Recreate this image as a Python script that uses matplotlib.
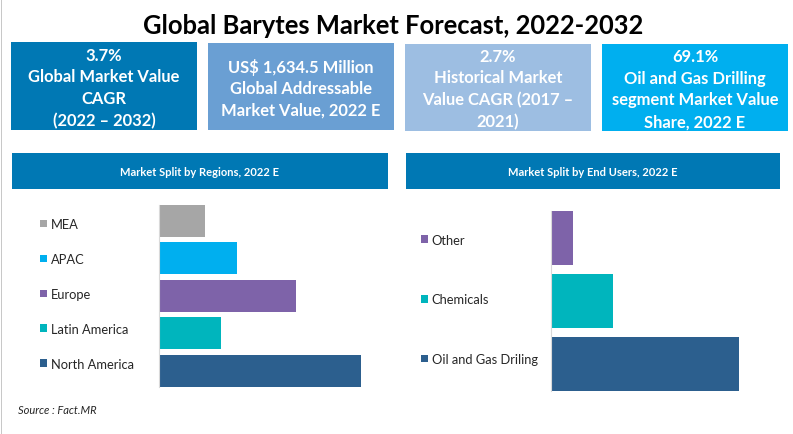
import matplotlib
matplotlib.use('Agg')
import matplotlib.pyplot as plt
from matplotlib.patches import Patch, Rectangle

W, H = 793, 435

# chart data
regions = ['North America', 'Latin America', 'Europe', 'APAC', 'MEA']
region_share = [38.7, 11.9, 26.2, 15.0, 8.9]
region_colors = ['#2C5F8E', '#00B5BD', '#7E63A9', '#00AFEF', '#A6A6A6']

users = ['Oil and Gas Driling', 'Chemicals', 'Other']
user_share = [69.1, 22.8, 8.1]
user_colors = ['#2C5F8E', '#00B5BD', '#7E63A9']

title = 'Global Barytes Market Forecast, 2022-2032'
card_texts = [
    ['3.7%', 'Global Market Value', 'CAGR', '(2022 – 2032)'],
    ['US$ 1,634.5 Million', 'Global Addressable', 'Market Value, 2022 E'],
    ['2.7%', 'Historical Market', 'Value CAGR (2017 –', '2021)'],
    ['69.1%', 'Oil and Gas Drilling', 'segment Market Value', 'Share, 2022 E'],
]
card_boxes = [(11, 43, 197, 131), (208, 44, 394, 131), (405, 45, 591, 132), (602, 45, 788, 132)]
card_colors = ['#0078B4', '#6A9FD3', '#9DBEE2', '#00AFEF']
header_texts = ['Market Split by Regions, 2022 E', 'Market Split by End Users, 2022 E']
header_boxes = [(12, 154, 388, 190), (406, 154, 780, 190)]

plt.rcParams['font.family'] = ['Lato', 'DejaVu Sans']

fig = plt.figure(figsize=(W / 100, H / 100), dpi=100, facecolor='white')


def fx(px):
    return px / W


def fy(py):
    return 1 - py / H


def px_rect(x0, y0, x1, y1, color):
    fig.add_artist(Rectangle((fx(x0), fy(y1)), (x1 - x0) / W, (y1 - y0) / H,
                             transform=fig.transFigure, fc=color, ec='none'))


def px_axes(x0, y0, x1, y1):
    ax = fig.add_axes([fx(x0), fy(y1), (x1 - x0) / W, (y1 - y0) / H])
    ax.patch.set_alpha(0)
    return ax


# thin grey line on the left edge of the screenshot
px_rect(1, 0, 2, H, '#C8C8C8')

fig.text(fx(393.5), fy(26), title, fontsize=18.4, fontweight='bold', color='black', ha='center', va='center')

for lines, box, color in zip(card_texts, card_boxes, card_colors):
    px_rect(*box, color)
    cx = (box[0] + box[2]) / 2
    cy = (box[1] + box[3]) / 2
    fig.text(fx(cx), fy(cy + 1.2), '\n'.join(lines), fontsize=11.9, fontweight='bold', color='white',
             ha='center', va='center', linespacing=1.43)

for label, box in zip(header_texts, header_boxes):
    px_rect(*box, '#0078B4')
    fig.text(fx((box[0] + box[2]) / 2), fy((box[1] + box[3]) / 2), label, fontsize=8.0, fontweight='bold',
             color='white', ha='center', va='center')


def draw_bars(ax, labels, values, colors, xmax, bar_h, leg_anchor, leg_space):
    ax.barh(range(len(values)), values, height=bar_h, color=colors)
    ax.set_xlim(0, xmax)
    ax.set_ylim(-0.5, len(values) - 0.5)
    ax.set_xticks([])
    ax.set_yticks([])
    for name in ['top', 'right', 'bottom']:
        ax.spines[name].set_visible(False)
    ax.spines['left'].set_color('#D9D9D9')
    ax.spines['left'].set_linewidth(0.8)
    ax.spines['left'].set_bounds(-bar_h / 2, len(values) - 1 + bar_h / 2)
    handles = [Patch(facecolor=c, label=l) for l, c in zip(labels, colors)][::-1]
    fig.legend(handles=handles, loc='center left', bbox_to_anchor=leg_anchor, frameon=False, fontsize=9.3,
               handlelength=0.56, handleheight=0.56, handletextpad=0.26, labelspacing=leg_space,
               borderpad=0, borderaxespad=0, labelcolor='#262626')


ax1 = px_axes(159, 203, 361, 390.5)
draw_bars(ax1, regions, region_share, region_colors, 38.7, 0.853, (fx(40), fy(295)), 1.78)

ax2 = px_axes(551, 207.5, 739, 396.5)
draw_bars(ax2, users, user_share, user_colors, 69.1, 0.873, (fx(421), fy(300.5)), 3.68)

fig.text(fx(18), fy(411), 'Source : Fact.MR', fontsize=8.0, style='italic', color='#262626', ha='left', va='center')

fig.savefig('out.png', dpi=100)
